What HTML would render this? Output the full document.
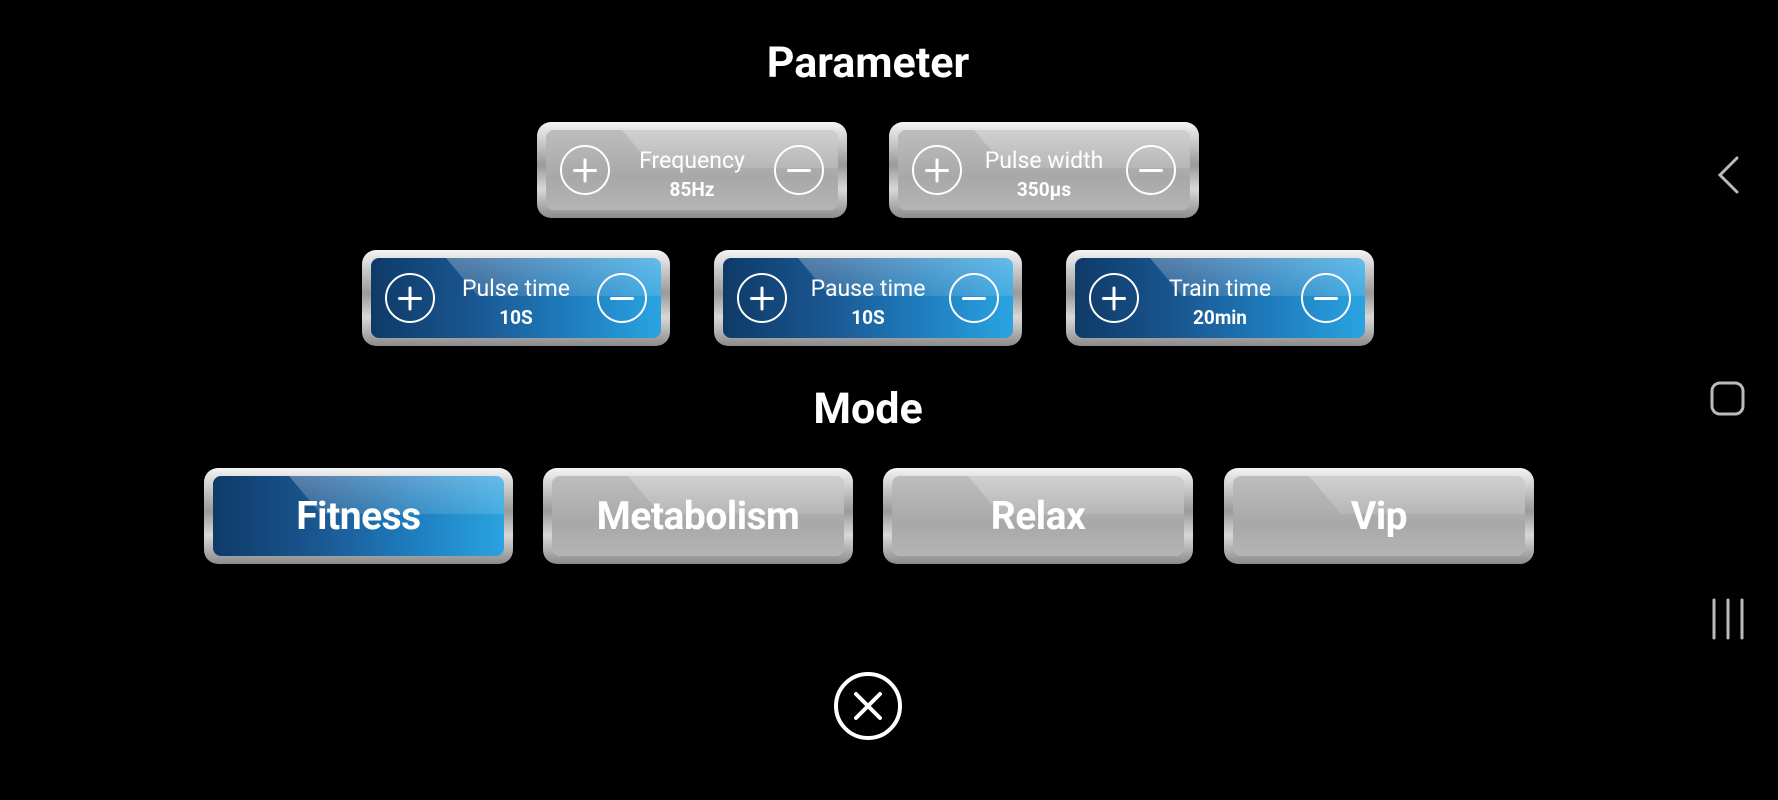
<!DOCTYPE html>
<html><head><meta charset="utf-8"><style>
body{margin:0;width:1778px;height:800px;background:#000;position:relative;overflow:hidden;font-family:"Roboto","Liberation Sans",sans-serif;color:#fff}
.t{position:absolute;left:0;width:1736px;text-align:center;font-weight:bold;font-size:43px}
.b{position:absolute;box-sizing:border-box;border-radius:14px;background:linear-gradient(180deg,#f4f4f4 0%,#9a9a9a 45%,#d8d8d8 70%,#8a8a8a 100%);padding:8px 9px}
.f{width:100%;height:100%;border-radius:8px;position:relative;overflow:hidden}
.g .f{background:linear-gradient(180deg,#bdbdbd,#a8a8a8 60%,#b5b5b5)}
.bl .f{background:linear-gradient(90deg,#0e3a68 0%,#1a5690 35%,#1f7fc0 70%,#2aa3e0 100%)}
.f:before{content:"";position:absolute;left:26%;top:0;width:100%;height:48%;background:linear-gradient(180deg,rgba(255,255,255,.28),rgba(255,255,255,.12));transform:skewX(40deg);transform-origin:top left}
.c{position:absolute;top:50%;width:46px;height:46px;margin-top:-25px;border:2.5px solid #fff;border-radius:50%}
.c:before,.c:after{content:"";position:absolute;left:11px;top:21.5px;width:24px;height:3px;background:#fff;border-radius:2px}
.c.p:after{transform:rotate(90deg)}
.c.m:after{display:none}
.l{position:absolute;left:0;width:100%;text-align:center;font-size:23px;line-height:1}
.v{position:absolute;left:0;width:100%;text-align:center;font-size:19px;font-weight:bold;line-height:1}
.mt{position:absolute;left:0;width:100%;top:50%;margin-top:-22px;text-align:center;font-size:39px;font-weight:bold;line-height:44px;letter-spacing:-0.5px}
</style></head><body>
<div class="t" style="top:38px">Parameter</div>
<div class="t" style="top:384px">Mode</div>

<div class="b g" style="left:537px;top:122px;width:310px;height:96px"><div class="f"><div class="c p" style="left:14px"></div><div class="c m" style="right:14px"></div><div class="l" style="top:19px">Frequency</div><div class="v" style="top:50px">85Hz</div></div></div>
<div class="b g" style="left:889px;top:122px;width:310px;height:96px"><div class="f"><div class="c p" style="left:14px"></div><div class="c m" style="right:14px"></div><div class="l" style="top:19px">Pulse width</div><div class="v" style="top:50px">350μs</div></div></div>

<div class="b bl" style="left:362px;top:250px;width:308px;height:96px"><div class="f"><div class="c p" style="left:14px"></div><div class="c m" style="right:14px"></div><div class="l" style="top:19px">Pulse time</div><div class="v" style="top:50px">10S</div></div></div>
<div class="b bl" style="left:714px;top:250px;width:308px;height:96px"><div class="f"><div class="c p" style="left:14px"></div><div class="c m" style="right:14px"></div><div class="l" style="top:19px">Pause time</div><div class="v" style="top:50px">10S</div></div></div>
<div class="b bl" style="left:1066px;top:250px;width:308px;height:96px"><div class="f"><div class="c p" style="left:14px"></div><div class="c m" style="right:14px"></div><div class="l" style="top:19px">Train time</div><div class="v" style="top:50px">20min</div></div></div>

<div class="b bl" style="left:204px;top:468px;width:309px;height:96px"><div class="f"><div class="mt">Fitness</div></div></div>
<div class="b g" style="left:543px;top:468px;width:310px;height:96px"><div class="f"><div class="mt">Metabolism</div></div></div>
<div class="b g" style="left:883px;top:468px;width:310px;height:96px"><div class="f"><div class="mt">Relax</div></div></div>
<div class="b g" style="left:1224px;top:468px;width:310px;height:96px"><div class="f"><div class="mt">Vip</div></div></div>

<svg style="position:absolute;left:0;top:0" width="1778" height="800">
<circle cx="868" cy="706" r="32" fill="none" stroke="#fff" stroke-width="4"/>
<path d="M856 694L880 718M880 694L856 718" stroke="#fff" stroke-width="4" stroke-linecap="round"/>
<path d="M1737 158L1720 175L1737 192" fill="none" stroke="#bbb" stroke-width="3" stroke-linecap="round"/>
<rect x="1712" y="383" width="31" height="31" rx="8" fill="none" stroke="#bbb" stroke-width="3"/>
<path d="M1714 600V638M1728 600V638M1742 600V638" stroke="#bbb" stroke-width="3" stroke-linecap="round"/>
</svg>
</body></html>
